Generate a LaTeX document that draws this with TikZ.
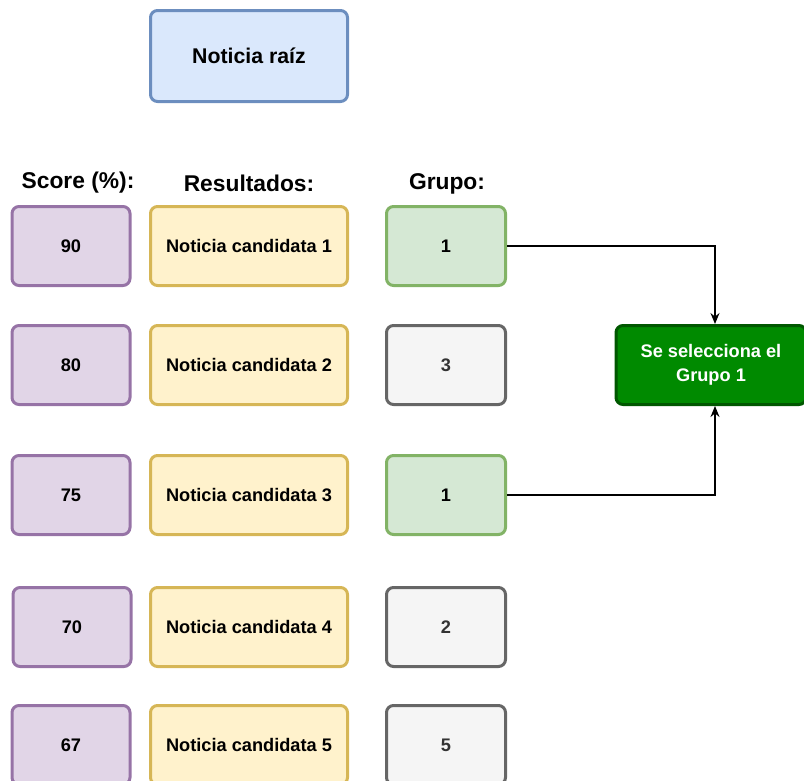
\documentclass[tikz,border=0pt]{standalone}
\usepackage{fontspec}
\setmainfont{Liberation Sans}
\usetikzlibrary{arrows.meta}
\definecolor{purpleFill}{HTML}{E1D5E7}
\definecolor{purpleLine}{HTML}{9673A6}
\definecolor{yellowFill}{HTML}{FFF2CC}
\definecolor{yellowLine}{HTML}{D6B656}
\definecolor{greenFill}{HTML}{D5E8D4}
\definecolor{greenLine}{HTML}{82B366}
\definecolor{grayFill}{HTML}{F5F5F5}
\definecolor{grayLine}{HTML}{666666}
\definecolor{grayText}{HTML}{333333}
\definecolor{blueFill}{HTML}{DAE8FC}
\definecolor{blueLine}{HTML}{6C8EBF}
\definecolor{selFill}{HTML}{008A00}
\definecolor{selLine}{HTML}{005700}
\tikzset{
  box/.style={rectangle, rounded corners=7pt, line width=3pt, inner sep=0pt,
    font=\bfseries\fontsize{18.2}{22}\selectfont},
  scorebox/.style={box, fill=purpleFill, draw=purpleLine, minimum width=118pt, minimum height=79pt},
  resbox/.style={box, fill=yellowFill, draw=yellowLine, minimum width=197pt, minimum height=79pt},
  grpyes/.style={box, fill=greenFill, draw=greenLine, minimum width=119pt, minimum height=79pt},
  grpno/.style={box, fill=grayFill, draw=grayLine, text=grayText, minimum width=119pt, minimum height=79pt},
  header/.style={font=\bfseries\fontsize{22.8}{26}\selectfont},
  link/.style={line width=1.5pt, -{Stealth[length=11pt,width=9pt]}},
}
\begin{document}
\begin{tikzpicture}[x=1pt, y=-1pt]
\useasboundingbox (0,0) rectangle (804,780);
\begin{scope}
\clip (0,0) rectangle (804,780);
% root item
\node[box, fill=blueFill, draw=blueLine, minimum width=197pt, minimum height=91pt,
      font=\bfseries\fontsize{21.3}{24}\selectfont] (root) at (249,56) {Noticia raíz};
% column headers
\node[header] (hscore) at (78,183) {Score (\%):};
\node[header] (hres) at (249,183) {Resultados:};
\node[header] (hgrp) at (447,184) {Grupo:};
% rows
\node[scorebox] (s1) at (71,246) {90};
\node[scorebox] (s2) at (71,365) {80};
\node[scorebox] (s3) at (71,495) {75};
\node[scorebox] (s4) at (72,627) {70};
\node[scorebox] (s5) at (71,745) {67};
\node[resbox] (r1) at (249,246) {Noticia candidata 1};
\node[resbox] (r2) at (249,365) {Noticia candidata 2};
\node[resbox] (r3) at (249,495) {Noticia candidata 3};
\node[resbox] (r4) at (249,627) {Noticia candidata 4};
\node[resbox] (r5) at (249,745) {Noticia candidata 5};
\node[grpyes] (g1) at (446,246) {1};
\node[grpno]  (g2) at (446,365) {3};
\node[grpyes] (g3) at (446,495) {1};
\node[grpno]  (g4) at (446,627) {2};
\node[grpno]  (g5) at (446,745) {5};
% selected group
\node[box, fill=selFill, draw=selLine, text=white, minimum width=190pt, minimum height=79pt,
      align=center, font=\bfseries\fontsize{18.2}{24}\selectfont] (sel) at (711,365)
      {Se selecciona el\\Grupo 1};
\end{scope}
% connectors
\draw[link] (g1.east) -| ([xshift=4pt]sel.north);
\draw[link] (g3.east) -| ([xshift=4pt]sel.south);
\end{tikzpicture}
\end{document}
